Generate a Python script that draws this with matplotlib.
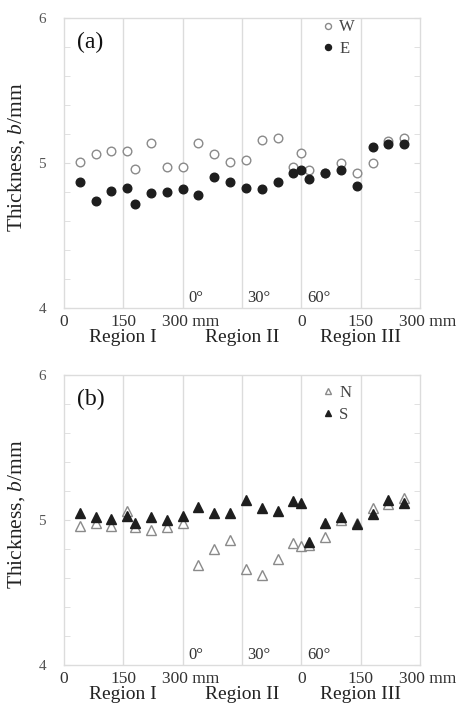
import matplotlib
matplotlib.use("Agg")
import matplotlib.pyplot as plt
from matplotlib.transforms import ScaledTranslation

plt.rcParams['font.family'] = ['Liberation Serif', 'DejaVu Serif']
plt.rcParams['mathtext.fontset'] = 'custom'
plt.rcParams['mathtext.it'] = 'Liberation Serif:italic'
plt.rcParams['mathtext.rm'] = 'Liberation Serif'

# Combined position along the pipe: Region I 0-300 mm, Region II 0-60 deg mapped to 300-600,
# Region III 0-300 mm mapped to 600-900
pos = [40, 80, 120, 160, 180, 220, 260, 300,
       340, 380, 420, 460, 500, 540, 580,
       600, 620, 660, 700, 740, 780, 820, 860]

W = [5.01, 5.06, 5.08, 5.08, 4.96, 5.14, 4.97, 4.97,
     5.14, 5.06, 5.01, 5.02, 5.16, 5.17, 4.97,
     5.07, 4.95, 4.93, 5.00, 4.93, 5.00, 5.15, 5.17]
E = [4.87, 4.74, 4.81, 4.83, 4.72, 4.79, 4.80, 4.82,
     4.78, 4.90, 4.87, 4.83, 4.82, 4.87, 4.93,
     4.95, 4.89, 4.93, 4.95, 4.84, 5.11, 5.13, 5.13]
N = [4.96, 4.98, 4.96, 5.06, 4.95, 4.93, 4.95, 4.98,
     4.69, 4.80, 4.86, 4.66, 4.62, 4.73, 4.84,
     4.82, 4.83, 4.88, 5.00, 4.98, 5.08, 5.11, 5.15]
S = [5.05, 5.02, 5.01, 5.03, 4.98, 5.02, 5.00, 5.03,
     5.09, 5.05, 5.05, 5.14, 5.08, 5.06, 5.13,
     5.12, 4.85, 4.98, 5.02, 4.97, 5.04, 5.14, 5.12]

xtick_pos = [0, 150, 300, 600, 750, 900]
xtick_labels = ['0', '150', '300 mm', '0', '150', '300 mm']
grid_pos = [150, 300, 450, 600, 750]
angle_pos = [300, 450, 600]
angle_labels = ['0°', '30°', '60°']
region_pos = [150, 450, 750]
region_labels = ['Region I', 'Region II', 'Region III']

fig = plt.figure(figsize=(4.62, 7.08), dpi=100)
axA = fig.add_axes([0.1385, 0.5650, 0.7706, 0.4096])
axB = fig.add_axes([0.1385, 0.0607, 0.7706, 0.4096])

GRID = '#dcdcdc'
TICK = '#333333'


def style(ax, panel):
    ax.set_xlim(0, 900)
    ax.set_ylim(4, 6)
    for sp in ax.spines.values():
        sp.set_color(GRID)
        sp.set_linewidth(1.0)
    for g in grid_pos:
        ax.axvline(g, color=GRID, lw=1.0, zorder=0)
    ax.set_xticks(xtick_pos)
    ax.set_xticklabels(xtick_labels, fontsize=12.5, color=TICK)
    ax.tick_params(axis='x', length=0, pad=4)
    for lab in ax.get_xticklabels():
        if 'mm' in lab.get_text():
            lab.set_transform(lab.get_transform() + ScaledTranslation(0.08, 0, fig.dpi_scale_trans))
    ax.set_yticks([4, 5, 6])
    ax.set_yticklabels(['4', '5', '6'], fontsize=11, color='#555555')
    ax.set_yticks([4.2, 4.4, 4.6, 4.8, 5.2, 5.4, 5.6, 5.8], minor=True)
    ax.tick_params(axis='y', which='both', direction='in', length=4, color=GRID,
                   left=True, right=True, pad=13)
    ax.set_ylabel('Thickness, $b$/mm', fontsize=15.5, color='#222222')
    ax.yaxis.set_label_coords(-0.105, 0.52)
    for a, t in zip(angle_pos, angle_labels):
        ax.annotate(t, xy=(a, 0), xycoords=('data', 'axes fraction'),
                    xytext=(4, 1.5), textcoords='offset points',
                    ha='left', va='bottom', fontsize=12, color=TICK)
    for r, t in zip(region_pos, region_labels):
        ax.annotate(t, xy=(r, 0), xycoords=('data', 'axes fraction'),
                    xytext=(0, -21), textcoords='offset points',
                    ha='center', va='center', fontsize=14, color='#222222')
    ax.text(0.036, 0.915, panel, transform=ax.transAxes, fontsize=17,
            ha='left', va='center', color='#111111')


style(axA, '(a)')
style(axB, '(b)')

axA.plot(pos, W, 'o', ms=6.2, mfc='white', mec='#8a8a8a', mew=1.0, label='W', zorder=3)
axA.plot(pos, E, 'o', ms=6.2, mfc='#1e1e1e', mec='#1e1e1e', mew=1.0, label='E', zorder=3)
axB.plot(pos, N, '^', ms=6.5, mfc='white', mec='#8a8a8a', mew=1.0, label='N', zorder=3)
axB.plot(pos, S, '^', ms=6.5, mfc='#1e1e1e', mec='#1e1e1e', mew=1.0, label='S', zorder=3)

for ax, top in ((axA, 0.995), (axB, 0.965)):
    leg = ax.legend(loc='upper left', bbox_to_anchor=(0.722, top), frameon=False,
                    fontsize=12, handlelength=0.8, handletextpad=0.3, labelspacing=0.35,
                    borderpad=0, borderaxespad=0, markerscale=0.7)
    for t in leg.get_texts():
        t.set_color('#444444')

fig.savefig('out.png', dpi=100)
